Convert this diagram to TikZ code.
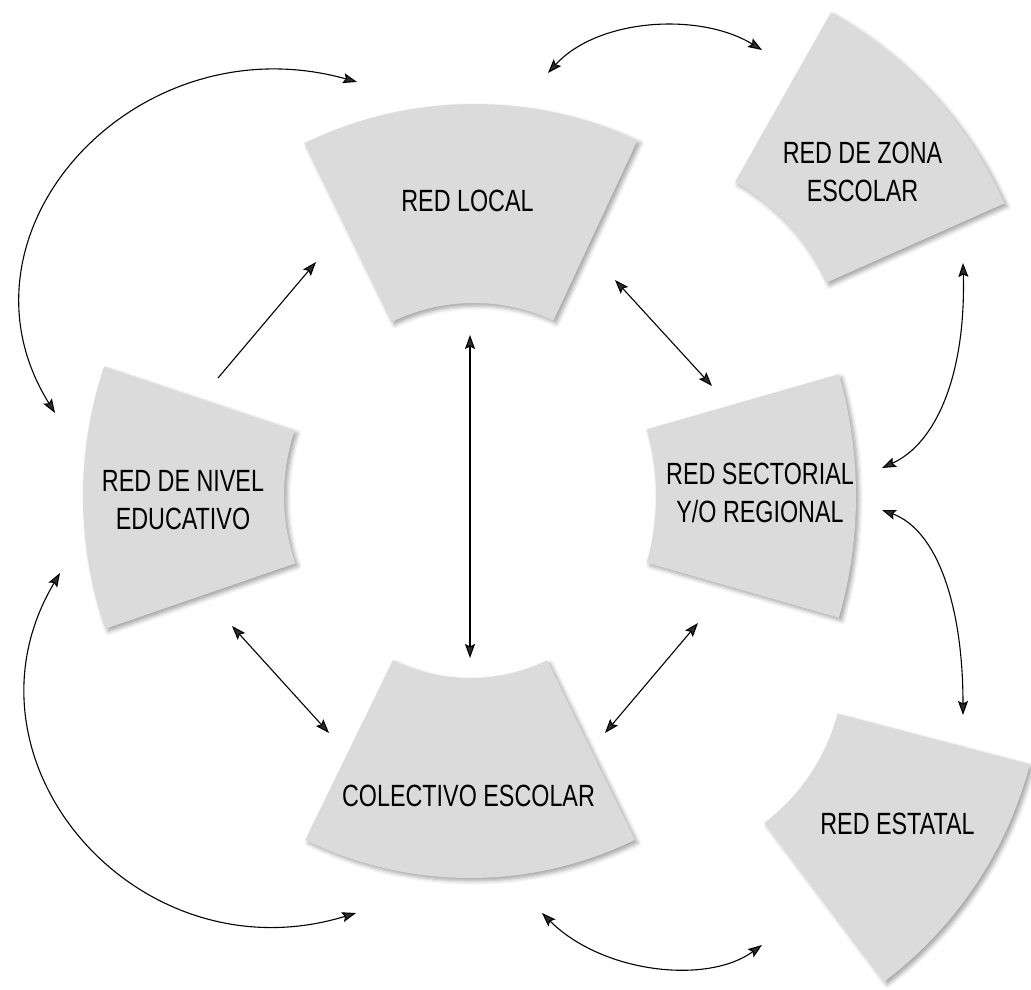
\documentclass[tikz,border=0pt]{standalone}
\usepackage{fontspec}
\setmainfont{Liberation Sans}[FakeStretch=0.76]
\usepackage{tikz}
\usetikzlibrary{arrows.meta,shadows.blur}
\definecolor{sectgray}{RGB}{219,219,219}

\begin{document}
\begin{tikzpicture}[x=1pt, y=1pt, line width=1.1pt,
		>={Stealth[length=14pt,width=10pt,inset=2.5pt]},
		sect/.style = {fill=sectgray, blur shadow={shadow xshift=3pt, shadow yshift=-3pt, shadow blur radius=4pt, shadow opacity=35}},
		lab/.style = {font=\fontsize{30.7}{38}\selectfont, align=center, inner sep=0pt}]
		\useasboundingbox (0,0) rectangle (1031,989);
		% centres of the ring pieces
		\coordinate (cloc) at (474,498);
		\coordinate (ccol) at (470,487);
		\coordinate (cniv) at (491,493);
		\coordinate (csec) at (414,493);
		\coordinate (czon) at (628,618);
		\coordinate (cest) at (644,326);
		% ring pieces
		\fill[sect] ([shift={(65:387)}]cloc) arc[start angle=65, end angle=116, radius=387] -- ([shift={(116:188)}]cloc) arc[start angle=116, end angle=65, radius=188] -- cycle;
		\fill[sect] ([shift={(244:376)}]ccol) arc[start angle=244, end angle=296, radius=376] -- ([shift={(296:176)}]ccol) arc[start angle=296, end angle=244, radius=176] -- cycle;
		\fill[sect] ([shift={(161.5:408)}]cniv) arc[start angle=161.5, end angle=199, radius=408] -- ([shift={(199:207)}]cniv) arc[start angle=199, end angle=161.5, radius=207] -- cycle;
		\fill[sect] ([shift={(-16:442)}]csec) arc[start angle=-16, end angle=16, radius=442] -- ([shift={(16:242)}]csec) arc[start angle=16, end angle=-16, radius=242] -- cycle;
		\fill[sect] ([shift={(24:412)}]czon) arc[start angle=24, end angle=60.5, radius=412] -- ([shift={(60.5:217)}]czon) arc[start angle=60.5, end angle=24, radius=217] -- cycle;
		\fill[sect] ([shift={(-53:399)}]cest) arc[start angle=-53, end angle=-14.7, radius=399] -- ([shift={(-14.7:200)}]cest) arc[start angle=-14.7, end angle=-53, radius=200] -- cycle;
		% labels
		\node[lab] (loc) at (467.5,788) {RED LOCAL};
		\node[lab] (zon) at (862.5,817) {RED DE ZONA\\ESCOLAR};
		\node[lab] (sec) at (760,496.5) {RED SECTORIAL\\Y/O REGIONAL};
		\node[lab] (niv) at (183,489) {RED DE NIVEL\\EDUCATIVO};
		\node[lab] (col) at (468.5,193.5) {COLECTIVO ESCOLAR};
		\node[lab] (est) at (897.5,165.5) {RED ESTATAL};
		% arrow ends
		\coordinate (niv-ne) at (218,611);
		\coordinate (loc-sw) at (316,727);
		\coordinate (loc-s) at (470,654);
		\coordinate (col-n) at (470,331);
		\coordinate (loc-se) at (615,709);
		\coordinate (sec-nw) at (712,603);
		\coordinate (niv-se) at (232,363);
		\coordinate (col-nw) at (329,256);
		\coordinate (sec-sw) at (698,366);
		\coordinate (col-ne) at (605,256);
		\coordinate (niv-nw) at (55,576);
		\coordinate (loc-nw) at (357,907);
		\coordinate (niv-sw) at (60,416);
		\coordinate (col-sw) at (356,76);
		\coordinate (loc-ne) at (548,916);
		\coordinate (zon-nw) at (762,939);
		\coordinate (zon-s) at (963,726);
		\coordinate (sec-ne) at (882,521);
		\coordinate (sec-se) at (882,479);
		\coordinate (est-n) at (963,274);
		\coordinate (col-se) at (542,76);
		\coordinate (est-sw) at (762,44);
		% straight arrows
		\draw[->] (niv-ne) -- (loc-sw);
		\draw[<->] (loc-s) -- (col-n);
		\draw[<->] (loc-se) -- (sec-nw);
		\draw[<->] (niv-se) -- (col-nw);
		\draw[<->] (sec-sw) -- (col-ne);
		% curved arrows
		\draw[<->] (niv-nw) .. controls +(-113,181) and +(-221,62) .. (loc-nw);
		\draw[<->] (niv-sw) .. controls +(-112,-188) and +(-218,-67) .. (col-sw);
		\draw[<->] (loc-ne) .. controls +(50,55) and +(-62,38) .. (zon-nw);
		\draw[<->] (zon-s) .. controls +(3,-110) and +(55,25) .. (sec-ne);
		\draw[<->] (sec-se) .. controls +(55,-20) and +(0,110) .. (est-n);
		\draw[<->] (col-se) .. controls +(60,-60) and +(-55,-40) .. (est-sw);
	\end{tikzpicture}
\end{document}
